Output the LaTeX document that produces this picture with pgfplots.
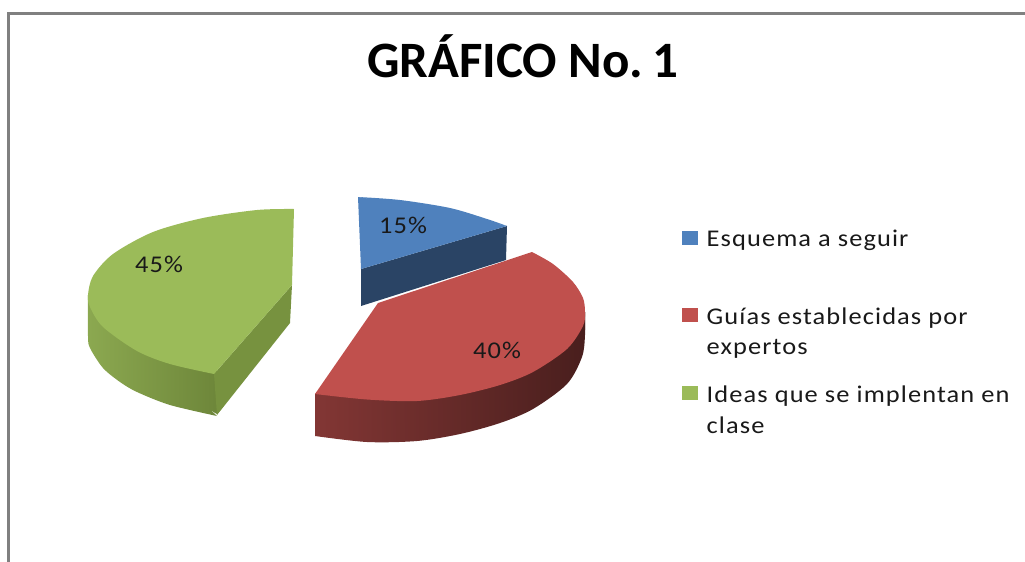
\documentclass[border=0pt]{standalone}
\usepackage{pgfplots}
\usepackage{fontspec}
\pgfplotsset{compat=1.18}
\setmainfont{Carlito}
\newfontfamily\lab[LetterSpace=4.6,FakeStretch=1.1]{Carlito}
\definecolor{cb}{HTML}{4F81BD}
\definecolor{cr}{HTML}{C0504D}
\definecolor{cg}{HTML}{9BBB59}
\definecolor{cbd}{HTML}{2A4465}
\definecolor{cgd}{HTML}{77923F}
\newcommand{\legtxt}[3]{\node[anchor=base west,inner sep=0pt,text=black!90] at (axis cs:#1,#2) {\fontsize{24}{24}\lab #3};}
\begin{document}
\begin{tikzpicture}
\begin{axis}[width=1025pt,height=562pt,scale only axis,hide axis,
  xmin=0,xmax=1025,ymin=0,ymax=562,y dir=reverse,clip=true]
\path (axis cs:0,0) rectangle (axis cs:1025,562);
% frame
\addplot[draw=black!50,line width=2.2pt] coordinates {(8.5,562) (8.5,13.5) (1025,13.5)};
% green wall (curved)
\addplot[smooth,draw=none,left color=cg!90!black,right color=cgd!92!black] coordinates {(88,295) (88,336) (90,348) (103,368) (120,382) (137,392) (170,405) (217,416)};
\addplot[draw=none,left color=cg!90!black,right color=cgd!92!black] coordinates {(88,295) (120,360) (217,414) (217,370) (150,320)};
\addplot[draw=none,fill=cgd] coordinates {(214,374) (217,415) (290,323) (292,285)};
% green top
\addplot[smooth,draw=none,fill=cg] coordinates {(294,209) (257,210) (203,218) (153,232) (113,254) (93,276) (88,295) (90,307) (103,327) (137,351) (170,364) (214,374)};
\addplot[draw=none,fill=cg] coordinates {(294,209) (200,280) (150,340) (214,374) (292,285)};
% blue
\addplot[draw=none,fill=cbd] coordinates {(361,269) (507,226) (506,260) (361,306)};
\addplot[smooth,draw=none,fill=cb] coordinates {(358,197) (400,200) (450,208) (487,219) (507,226)};
\addplot[draw=none,fill=cb] coordinates {(358,197) (430,208) (507,226) (361,269)};
% red wall
\addplot[smooth,draw=none,left color=cr!68!black,middle color=cr!42!black,right color=cr!38!black] coordinates {(315,436) (367,442) (417,441) (460,434) (500,423) (533,409) (567,384) (582,357) (585,335) (585,312)};
\addplot[draw=none,left color=cr!68!black,middle color=cr!42!black,right color=cr!38!black] coordinates {(315,394) (315,436) (400,425) (585,330) (585,312)};
% red top
\addplot[smooth,draw=none,fill=cr] coordinates {(532,252) (553,264) (573,282) (583,298) (585,312) (583,326) (567,349) (533,372) (500,385) (460,395) (417,401) (367,399.5) (315,394)};
\addplot[draw=none,fill=cr] coordinates {(532,252) (500,330) (400,380) (315,394) (378,303)};
% legend keys
\addplot[draw=none,fill=cb] coordinates {(682,231) (698,231) (698,245) (682,245)};
\addplot[draw=none,fill=cr] coordinates {(682,308) (698,308) (698,322) (682,322)};
\addplot[draw=none,fill=cg] coordinates {(682,386) (698,386) (698,400) (682,400)};
% text
\node[anchor=base,inner sep=0pt] at (axis cs:522.5,77) {\fontsize{51}{51}\selectfont\bfseries GRÁFICO No.\hspace{0.17em}1};
\legtxt{706.5}{246}{Esquema a seguir}
\legtxt{706.5}{324}{Guías establecidas por}
\legtxt{706.5}{354}{expertos}
\legtxt{706.5}{402}{Ideas que se implentan en}
\legtxt{706.5}{433}{clase}
\legtxt{379}{233}{15\%}
\legtxt{473}{358}{40\%}
\legtxt{135}{272}{45\%}
\end{axis}
\end{tikzpicture}
\end{document}
